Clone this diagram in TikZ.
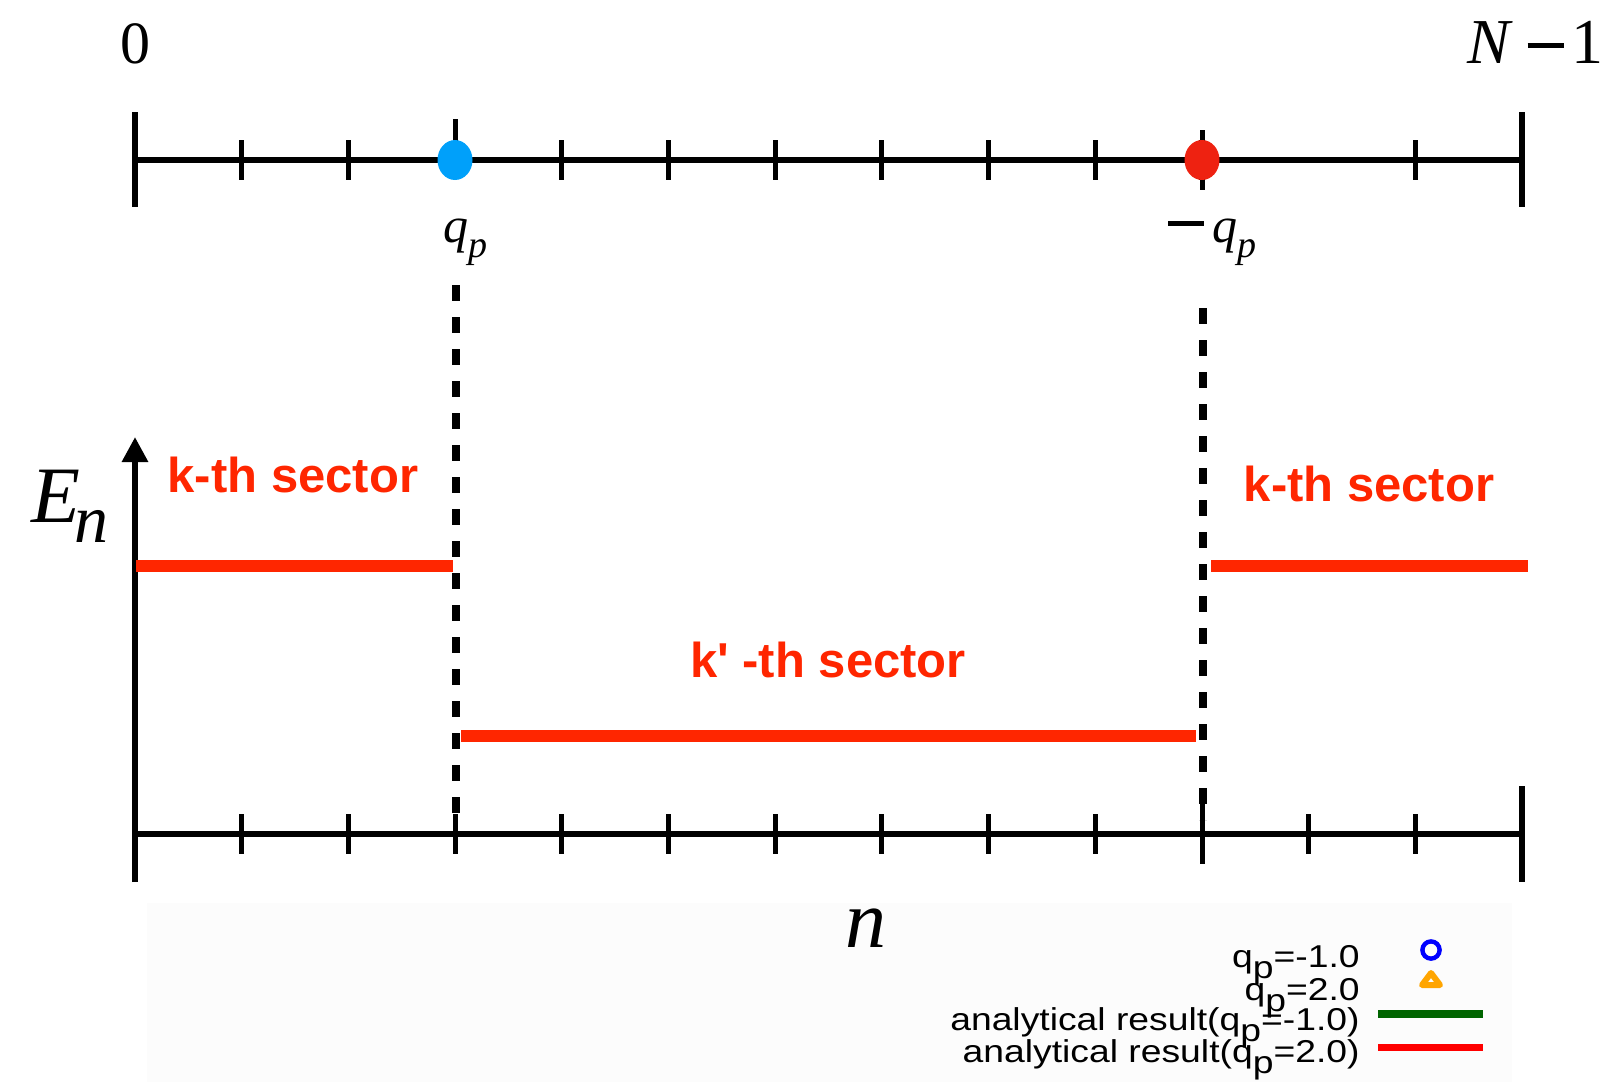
\documentclass[tikz,border=0pt]{standalone}
\usepackage{fontspec}
\setmainfont{Liberation Serif}
\newfontfamily\lsans{Liberation Sans}
\usetikzlibrary{arrows.meta,shapes.geometric}
\definecolor{dotblue}{RGB}{0,160,250}
\definecolor{dotred}{RGB}{238,34,17}
\definecolor{sectred}{RGB}{255,38,0}
\definecolor{legorange}{RGB}{255,165,0}
\definecolor{leggreen}{RGB}{0,100,0}
\definecolor{legblue}{RGB}{0,0,255}
\definecolor{legred}{RGB}{255,0,0}
\newcommand{\mathminus}{\rule[7.5pt]{18pt}{2.6pt}}
\begin{document}
\begin{tikzpicture}[x=0.5pt,y=-0.5pt,
  axisline/.style={line width=3pt},
  tickmark/.style={line width=2.5pt},
  endbar/.style={line width=2.8pt},
  sectline/.style={line width=6pt, sectred},
  dashline/.style={line width=4pt, dash pattern=on 8pt off 8pt},
  sectlabel/.style={anchor=base, inner sep=0, text=sectred, font=\lsans\bfseries\fontsize{24.5}{24.5}\selectfont},
  mathlabel/.style={anchor=base, inner sep=0},
  legtext/.style={anchor=base east, inner sep=0, font=\lsans\fontsize{15.8}{15.8}\selectfont},
  dotmark/.style={ellipse, inner sep=0, minimum width=17.5pt, minimum height=20pt}
]
\useasboundingbox (0,0) rectangle (1610,1082);
% legend background
\fill[black!1] (147,903) rectangle (1512,1082);

% ---------- top axis ----------
\coordinate (tl) at (135,160);
\coordinate (tr) at (1522,160);
\draw[axisline] (tl) -- (tr);
\draw[endbar] (135,112) -- (135,207);
\draw[endbar] (1522,112) -- (1522,207);
\foreach \i in {1,2,4,5,6,7,8,9,10,12,13}
  \draw[tickmark] ({135+\i*106.69},140) -- ({135+\i*106.69},180);
\draw[tickmark] (455,119) -- (455,160);
\draw[tickmark] (1202,130) -- (1202,190);
\node (bdot) [dotmark, fill=dotblue] at (455,160) {};
\node (rdot) [dotmark, fill=dotred] at (1202,160) {};

\node (zero) [mathlabel, font=\fontsize{30}{30}\selectfont] at (135,63) {0};
\node (nm1) [anchor=base east, inner sep=0, font=\fontsize{32}{32}\selectfont] at (1604,63) {\textit{N}\hspace{7pt}\mathminus\hspace{4pt}1};
\node (qlab) [mathlabel, font=\fontsize{25}{25}\selectfont] at (465,242) {\textit{q}\raisebox{-7.5pt}{\fontsize{19}{19}\selectfont\textit{p}}};
\node (mqlab) [mathlabel, font=\fontsize{25}{25}\selectfont] at (1212,242) {\rule[8pt]{18pt}{2.5pt}\hspace{4pt}\textit{q}\raisebox{-7.5pt}{\fontsize{19}{19}\selectfont\textit{p}}};

% ---------- dashed separators ----------
\coordinate (d1t) at (456,285);
\coordinate (d1b) at (456,813);
\coordinate (d2t) at (1203,308);
\coordinate (d2b) at (1203,820);
\draw[dashline] (d1t) -- (d1b);
\draw[dashline] (d2t) -- (d2b);

% ---------- lower axes ----------
\coordinate (origin) at (135,882);
\coordinate (ytip) at (135,437);
\draw[axisline, -{Triangle[width=12.5pt,length=12.5pt]}] (origin) -- (ytip);
\coordinate (bl) at (135,834);
\coordinate (br) at (1522,834);
\draw[axisline] (bl) -- (br);
\draw[endbar] (1522,786) -- (1522,882);
\foreach \i in {1,2,3,4,5,6,7,8,9,11,12}
  \draw[tickmark] ({135+\i*106.69},814) -- ({135+\i*106.69},854);
\draw[tickmark] (1202,803) -- (1202,864);

% ---------- sector levels ----------
\draw[sectline] (136,566) -- (453,566);
\draw[sectline] (461,736) -- (1196,736);
\draw[sectline] (1211,566) -- (1528,566);

\node (s1) [sectlabel] at (293,492) {k-th sector};
\node (s2) [sectlabel] at (1369,501) {k-th sector};
\node (s3) [sectlabel] at (828,677) {k' -th sector};

\node (En) [anchor=base west, inner sep=0, font=\fontsize{40}{40}\selectfont] at (31,522) {\textit{E}\kern-3pt\raisebox{-10pt}{\fontsize{34}{34}\selectfont\textit{n}}};
\node (nlab) [mathlabel, font=\fontsize{41}{41}\selectfont] at (866,947) {\textit{n}};

% ---------- legend ----------
\node (l1) [legtext] at (1360,967) {\scalebox{1.18}[1]{q\raisebox{-0.37em}{p}=-1.0}};
\node (l2) [legtext] at (1360,1000) {\scalebox{1.18}[1]{q\raisebox{-0.37em}{p}=2.0}};
\node (l3) [legtext] at (1360,1030) {\scalebox{1.18}[1]{analytical result(q\raisebox{-0.37em}{p}=-1.0)}};
\node (l4) [legtext] at (1360,1062) {\scalebox{1.18}[1]{analytical result(q\raisebox{-0.37em}{p}=2.0)}};
\node (m1) [circle, draw=legblue, line width=2.2pt, inner sep=0, minimum size=8.6pt] at (1431,950) {};
\draw[legorange, line width=3pt, line join=round] (1431,973) -- (1440,985) -- (1422,985) -- cycle;
\coordinate (g1) at (1378,1014);
\coordinate (g2) at (1483,1014);
\draw[leggreen, line width=4pt] (g1) -- (g2);
\coordinate (r1) at (1378,1047);
\coordinate (r2) at (1483,1047);
\draw[legred, line width=3.5pt] (r1) -- (r2);
\end{tikzpicture}
\end{document}
